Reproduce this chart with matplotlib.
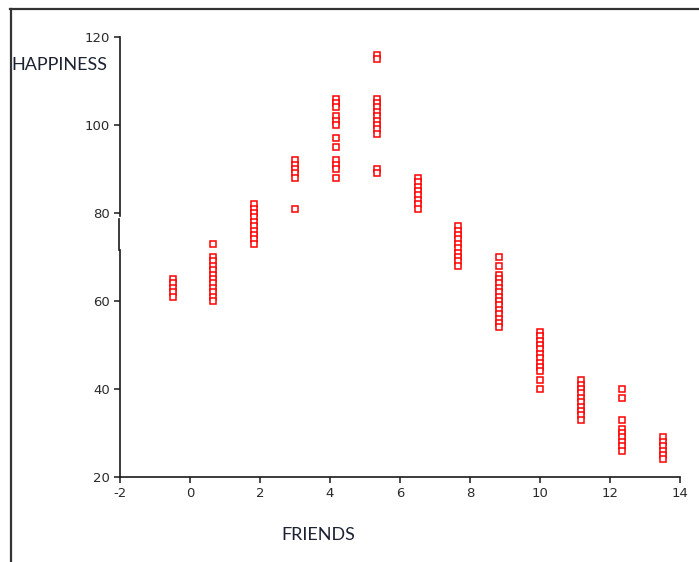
import matplotlib
matplotlib.use("Agg")
import matplotlib.pyplot as plt
from matplotlib.lines import Line2D

plt.rcParams["axes.unicode_minus"] = False

# Number of friends for each group of respondents
friends = [-0.5, 0.667, 1.833, 3.0, 4.167, 5.333, 6.5, 7.667, 8.833, 10.0, 11.167, 12.333, 13.5]

# Happiness scores recorded in each group
happiness = [
    [65, 64, 63, 62, 61],
    [73, 70, 69, 68, 67, 66, 65, 64, 63, 62, 61, 60],
    [82, 81, 80, 79, 78, 77, 76, 75, 74, 73],
    [92, 91, 90, 89, 88, 81],
    [106, 105, 104, 102, 101, 100, 97, 95, 92, 91, 90, 88],
    [116, 115, 106, 105, 104, 103, 102, 101, 100, 99, 98, 90, 89],
    [88, 87, 86, 85, 84, 83, 82, 81],
    [77, 76, 75, 74, 73, 72, 71, 70, 69, 68],
    [70, 68, 66, 65, 64, 63, 62, 61, 60, 59, 58, 57, 56, 55, 54],
    [53, 52, 51, 50, 49, 48, 47, 46, 45, 44, 42, 40],
    [42, 41, 40, 39, 38, 37, 36, 35, 34, 33],
    [40, 38, 33, 31, 30, 29, 28, 27, 26],
    [29, 28, 27, 26, 25, 24],
]

x_ticks = [-2, 0, 2, 4, 6, 8, 10, 12, 14]
y_ticks = [20, 40, 60, 80, 100, 120]

W, H = 699, 562
fig = plt.figure(figsize=(W / 100, H / 100), dpi=100)
fig.patch.set_facecolor("white")

ax = fig.add_axes([120 / W, 1 - 477 / H, 560 / W, 440 / H])
ax.set_xlim(-2, 14)
ax.set_ylim(20, 120)

xs, ys = [], []
for f, vals in zip(friends, happiness):
    xs.extend([f] * len(vals))
    ys.extend(vals)

ax.plot(xs, ys, linestyle="none", marker="s", markersize=5.0,
        markerfacecolor="white", markeredgecolor="#ff0000",
        markeredgewidth=1.1, clip_on=False, zorder=3)

for side in ("top", "right", "left"):
    ax.spines[side].set_visible(False)
ax.spines["bottom"].set_color("#1a1a1a")
ax.spines["bottom"].set_linewidth(1.2)

# Left axis line drawn in pieces, with its small offset section
def ypos(py):
    return (477 - py) / 440
off = -1.5 / 560
for x0, y0, y1 in [(0, 37, 216), (off, 219, 250), (0, 250, 477)]:
    ax.add_line(Line2D([x0, x0], [ypos(y0), ypos(y1)], transform=ax.transAxes,
                       color="#1a1a1a", linewidth=1.2, clip_on=False))

ax.set_xticks(x_ticks)
ax.set_yticks(y_ticks)
ax.tick_params(axis="both", direction="out", length=4, width=1.1,
               color="#1a1a1a", labelcolor="#2a2a2a", labelsize=9.5, pad=3)
for lab in ax.get_xticklabels() + ax.get_yticklabels():
    lab.set_fontfamily("DejaVu Sans")
ax.patch.set_alpha(0)

fig.text(11 / W, 1 - 65 / H, "HAPPINESS", ha="left", va="center",
         fontsize=13, family="Lato", color="#1c2233")
fig.text(318.5 / W, 1 - 535 / H, "FRIENDS", ha="center", va="center",
         fontsize=13, family="Lato", color="#1c2233")

# Outer frame (top and left edges)
fig.add_artist(Line2D([10 / W, 1.0], [1 - 8.5 / H, 1 - 8.5 / H],
                      transform=fig.transFigure, color="#333333", linewidth=1.6))
fig.add_artist(Line2D([10.5 / W, 10.5 / W], [0, 1 - 8.5 / H],
                      transform=fig.transFigure, color="#333333", linewidth=1.6))

fig.savefig("out.png", dpi=100, facecolor="white")
